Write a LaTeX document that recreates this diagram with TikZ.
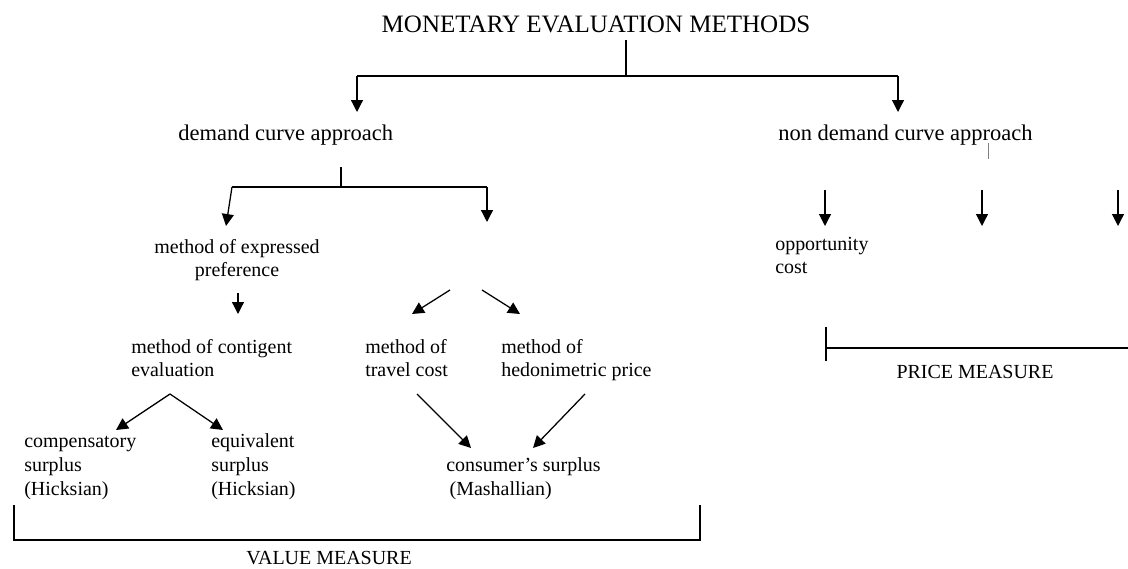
\documentclass[tikz,border=0pt]{standalone}
\usepackage{fontspec}
\setmainfont{Liberation Serif}
\usetikzlibrary{arrows.meta}

\begin{document}
\begin{tikzpicture}[x=0.025cm, y=-0.025cm,
      txt/.style={inner sep=0pt, align=left, font=\fontsize{14.2}{17}\selectfont},
      head/.style={inner sep=0pt, font=\fontsize{16}{19}\selectfont},
      arr/.style={-{Triangle[length=8.5pt,width=8.5pt]}, line width=0.9pt},
      ln/.style={line width=0.9pt},
      bar/.style={line width=1.4pt}
    ]
      \useasboundingbox (0,0) rectangle (1128,569);

      % texts (base anchor = last line)
      \node[inner sep=0pt, anchor=base, font=\fontsize{17.8}{21}\selectfont] (title) at (596,33) {MONETARY EVALUATION METHODS};
      \node[head, anchor=base west] (dca) at (178,141) {demand curve approach};
      \node[head, anchor=base west] (ndca) at (778,141) {non demand curve approach};

      \node[txt, align=center, anchor=base] (mep) at (237,277) {method of expressed\\preference};
      \node[txt, anchor=base west] (mce) at (131,377) {method of contigent\\evaluation};
      \node[txt, anchor=base west] (comp) at (24,495) {compensatory\\surplus\\(Hicksian)};
      \node[txt, anchor=base west] (equiv) at (211,495) {equivalent\\surplus\\(Hicksian)};
      \node[txt, anchor=base west] (mtc) at (365,377) {method of\\travel cost};
      \node[txt, anchor=base west] (mhp) at (501,377) {method of\\hedonimetric price};
      \node[txt, anchor=base west] (cons) at (446,495) {consumer's surplus\\\,(Mashallian)};
      \node[txt, anchor=base west] (opp) at (775,274) {opportunity\\cost};

      \node[txt, anchor=base] (value) at (329,564) {VALUE MEASURE};
      \node[txt, anchor=base] (price) at (975,378) {PRICE MEASURE};

      % junction points
      \coordinate (t0) at (626,40);
      \coordinate (t1) at (626,76);
      \coordinate (tl) at (357,76);
      \coordinate (tr) at (898,76);
      \coordinate (d0) at (341,167);
      \coordinate (d1) at (341,187);
      \coordinate (dl) at (232,187);
      \coordinate (dr) at (487,187);
      \coordinate (dl2) at (226,226);
      \coordinate (dr2) at (487,222);
      \coordinate (e0) at (238,293);
      \coordinate (e1) at (238,314);
      \coordinate (s1) at (450,290);
      \coordinate (s2) at (482,290);
      \coordinate (s1b) at (412,314);
      \coordinate (s2b) at (520,314);
      \coordinate (c0) at (170,394);
      \coordinate (c1) at (116,430);
      \coordinate (c2) at (223,430);
      \coordinate (m1) at (417,394);
      \coordinate (m2) at (585,394);
      \coordinate (m1b) at (471,448);
      \coordinate (m2b) at (533,448);
      \coordinate (n0) at (988,143);
      \coordinate (n1) at (988,159);

      % top level
      \draw[ln] (t0) -- (t1);
      \draw[ln] (tl) -- (tr);
      \draw[arr] (tl) -- (tl |- 0,112);
      \draw[arr] (tr) -- (tr |- 0,112);

      % demand curve approach
      \draw[ln] (d0) -- (d1);
      \draw[ln] (dl) -- (dr);
      \draw[arr] (dl) -- (dl2);
      \draw[arr] (dr) -- (dr2);
      \draw[arr] (e0) -- (e1);
      \draw[arr] (s1) -- (s1b);
      \draw[arr] (s2) -- (s2b);
      \draw[arr] (c0) -- (c1);
      \draw[arr] (c0) -- (c2);
      \draw[arr] (m1) -- (m1b);
      \draw[arr] (m2) -- (m2b);

      % non demand curve approach
      \draw[gray, line width=0.5pt] (n0) -- (n1);
      \foreach \x in {825,982,1118}
        \draw[arr] (\x,190) -- (\x,226);

      % brackets
      \draw[bar] (14,505) -- (14,540) -- (700,540) -- (700,505);
      \draw[bar] (826,327) -- (826,361);
      \draw[bar] (826,348) -- (1128,348);
    \end{tikzpicture}
\end{document}
